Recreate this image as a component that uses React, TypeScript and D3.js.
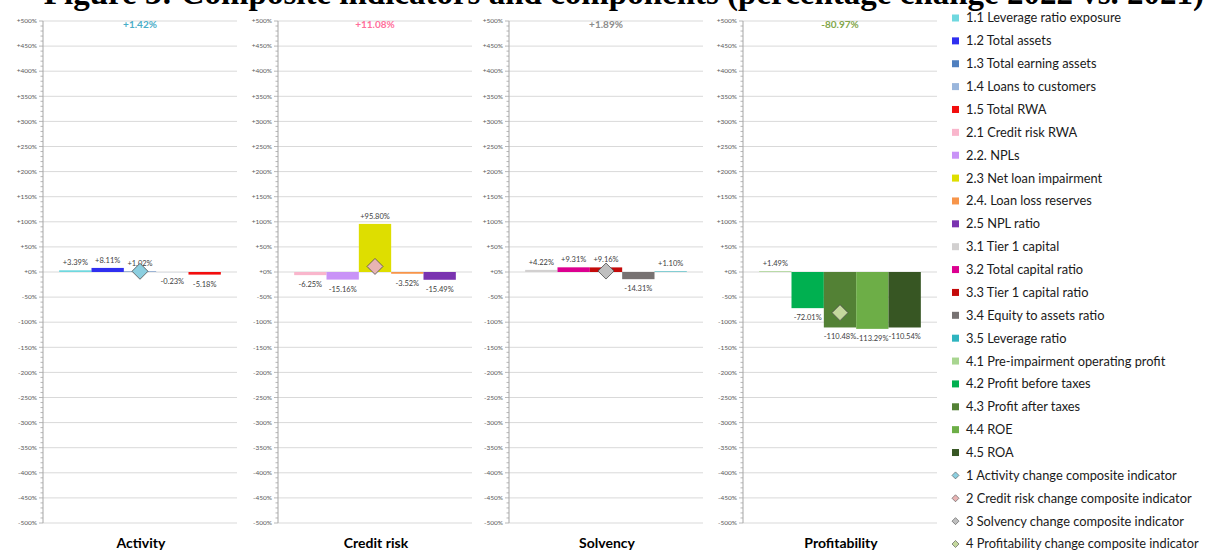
import React from "react";
import * as d3 from "d3";

const panelTitles = ["Activity", "Credit risk", "Solvency", "Profitability"];

const activityNames = ["1.1 Leverage ratio exposure", "1.2 Total assets", "1.3 Total earning assets", "1.4 Loans to customers", "1.5 Total RWA"];
const creditNames = ["2.1 Credit risk RWA", "2.2. NPLs", "2.3 Net loan impairment", "2.4. Loan loss reserves", "2.5 NPL ratio"];
const solvencyNames = ["3.1 Tier 1 capital", "3.2 Total capital ratio", "3.3 Tier 1 capital ratio", "3.4 Equity to assets ratio", "3.5 Leverage ratio"];
const profitNames = ["4.1 Pre-impairment operating profit", "4.2 Profit before taxes", "4.3 Profit after taxes", "4.4 ROE", "4.5 ROA"];
const compositeNames = ["1 Activity change composite indicator", "2 Credit risk change composite indicator", "3 Solvency change composite indicator", "4 Profitability change composite indicator"];

const activityValues = [3.39, 8.11, 1.02, -0.23, -5.18];
const creditValues = [-6.25, -15.16, 95.8, -3.52, -15.49];
const solvencyValues = [4.22, 9.31, 9.16, -14.31, 1.1];
const profitValues = [1.49, -72.01, -110.48, -113.29, -110.54];
const compositeValues = [1.42, 11.08, 1.89, -80.97];

const activityColors = ["#6fd8df", "#2f2ff0", "#4f7fbf", "#9ab6dc", "#f20d0d"];
const creditColors = ["#f9b6cc", "#c993f7", "#dede00", "#f7954a", "#7a33b0"];
const solvencyColors = ["#d2d0d0", "#dc0090", "#c40a0a", "#777272", "#2fb4bf"];
const profitColors = ["#a8d590", "#00b050", "#538135", "#6dae47", "#375623"];
const compositeColors = ["#8ccfe0", "#e8b4b4", "#bfbfbf", "#c4d89d"];
const compositeTextColors = ["#4aadc8", "#ff6f9c", "#8c8c8c", "#82a64a"];

const yTicks = d3.range(-500, 501, 50);
const yMinorTicks = d3.range(-500, 501, 10);

const panelNames = [activityNames, creditNames, solvencyNames, profitNames];
const panelValues = [activityValues, creditValues, solvencyValues, profitValues];
const panelColors = [activityColors, creditColors, solvencyColors, profitColors];

const fmt = (v: number) => (v > 0 ? "+" : v < 0 ? "-" : "+") + Math.abs(v).toFixed(2) + "%";
const fmtTick = (v: number) => (v >= 0 ? "+" : "-") + Math.abs(v) + "%";

const FONT = "Lato, 'Open Sans', sans-serif";

export default function App() {
  const W = 1206;
  const H = 550;
  const panelLefts = [43, 278, 509, 743];
  const panelWidth = 194;
  const y = d3.scaleLinear().domain([-500, 500]).range([523, 21]);

  const legendItems = [
    ...panelNames.flatMap((names, p) => names.map((n, i) => ({ name: n, color: panelColors[p][i], diamond: false }))),
    ...compositeNames.map((n, i) => ({ name: n, color: compositeColors[i], diamond: true })),
  ];
  const legendY = d3.scalePoint<number>().domain(d3.range(legendItems.length)).range([18, 544]);

  return (
    <svg
      width={W}
      height={H}
      style={{ position: "absolute", left: 0, top: 0, background: "#fff" }}
      fontFamily={FONT}
    >
      <text
        x={1204}
        y={4}
        textAnchor="end"
        fontFamily="'Liberation Serif', 'Times New Roman', serif"
        fontWeight="bold"
        fontSize={33}
        fill="#000"
      >
        Figure 3: Composite indicators and components (percentage change 2022 vs. 2021)
      </text>

      {panelTitles.map((title, p) => {
        const left = panelLefts[p];
        const right = left + panelWidth;
        const x = d3
          .scaleBand<number>()
          .domain(d3.range(panelValues[p].length))
          .range([left, right])
          .paddingInner(0)
          .paddingOuter(0.5);
        const values = panelValues[p];
        const colors = panelColors[p];
        const cx = (x(2) as number) + x.bandwidth() / 2;
        const comp = compositeValues[p];
        const dy = y(comp);
        const ds = 8;
        return (
          <g key={title}>
            {yTicks.map((t) => (
              <line key={"g" + t} x1={left} x2={right} y1={y(t)} y2={y(t)} stroke="#d9d9d9" strokeWidth={1} />
            ))}
            {yMinorTicks.map((t) => (
              <line
                key={"m" + t}
                x1={left - (t % 50 === 0 ? 4 : 2.5)}
                x2={left}
                y1={y(t)}
                y2={y(t)}
                stroke="#a6a6a6"
                strokeWidth={0.8}
              />
            ))}
            <line x1={left} x2={left} y1={y(500)} y2={y(-500)} stroke="#a6a6a6" strokeWidth={1} />
            {yTicks.map((t) => (
              <text
                key={"t" + t}
                x={left - 6}
                y={y(t)}
                dy="0.35em"
                textAnchor="end"
                fontSize={6.5}
                fill="#595959"
              >
                {fmtTick(t)}
              </text>
            ))}
            {values.map((v, i) => (
              <rect
                key={"b" + i}
                x={x(i) as number}
                width={x.bandwidth()}
                y={Math.min(y(v), y(0))}
                height={Math.abs(y(v) - y(0))}
                fill={colors[i]}
              />
            ))}
            {values.map((v, i) => (
              <text
                key={"l" + i}
                x={(x(i) as number) + x.bandwidth() / 2}
                y={v >= 0 ? y(v) - 5 : y(v) + 12}
                textAnchor="middle"
                fontSize={7.5}
                fill="#404040"
              >
                {fmt(v)}
              </text>
            ))}
            <path
              d={`M${cx},${dy - ds} L${cx + ds},${dy} L${cx},${dy + ds} L${cx - ds},${dy} Z`}
              fill={compositeColors[p]}
              stroke="#4d4d4d"
              strokeWidth={0.8}
            />
            <text
              x={(left + right) / 2}
              y={28}
              textAnchor="middle"
              fontSize={10}
              fontWeight="bold"
              fill={compositeTextColors[p]}
            >
              {fmt(comp)}
            </text>
            <text
              x={(left + right) / 2 + 1}
              y={548}
              textAnchor="middle"
              fontSize={14}
              fontWeight="bold"
              fill="#000"
            >
              {title}
            </text>
          </g>
        );
      })}

      {legendItems.map((item, i) => {
        const ly = legendY(i) as number;
        return (
          <g key={"lg" + i}>
            {item.diamond ? (
              <path
                d={`M955.5,${ly - 3.5} L959,${ly} L955.5,${ly + 3.5} L952,${ly} Z`}
                fill={item.color}
                stroke="#4d4d4d"
                strokeWidth={0.6}
              />
            ) : (
              <rect x={952} y={ly - 3.5} width={7} height={7} fill={item.color} />
            )}
            <text x={966} y={ly} dy="0.35em" fontSize={12.8} fill="#1a1a1a">
              {item.name}
            </text>
          </g>
        );
      })}
    </svg>
  );
}
